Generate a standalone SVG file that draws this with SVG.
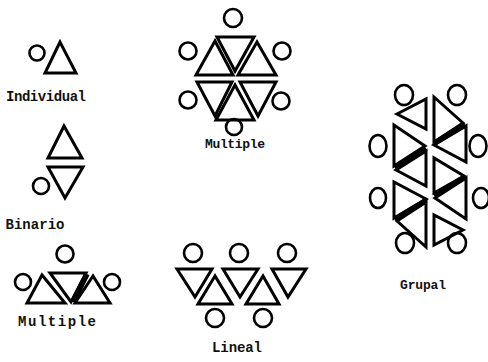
<svg xmlns="http://www.w3.org/2000/svg" width="488" height="362" viewBox="0 0 488 362">
<style>
.t{fill:none;stroke:#000;stroke-width:3;stroke-linejoin:miter}
.c{fill:none;stroke:#000;stroke-width:2.6}
.b{stroke:#000;stroke-width:5.5;stroke-linecap:butt}
.lbl{font-family:"Liberation Mono","Courier New",monospace;font-weight:bold;fill:#111;text-anchor:middle}
</style>
<rect width="488" height="362" fill="#fff"/>
<g id="individual">
<circle class="c" cx="37" cy="53" r="7.5"/>
<polygon class="t" points="60,42 45,73 76,73"/>
<text class="lbl" x="46" y="101" font-size="14" textLength="80">Individual</text>
</g>
<g id="binario">
<polygon class="t" points="64,126 48,158 82,158"/>
<polygon class="t" points="48,167 83,167 65,198"/>
<circle class="c" cx="41" cy="186" r="8"/>
<text class="lbl" x="35" y="229" font-size="14" textLength="59">Binario</text>
</g>
<g id="multiple-hex">
<circle class="c" cx="233" cy="18" r="9"/>
<circle class="c" cx="188" cy="51" r="8.5"/>
<circle class="c" cx="282" cy="51" r="8.5"/>
<circle class="c" cx="188" cy="100" r="8.5"/>
<circle class="c" cx="281" cy="101" r="8.5"/>
<circle class="c" cx="234" cy="127" r="8"/>
<polygon class="t" points="215,41 196,75 233,75"/>
<polygon class="t" points="217,37 254,37 235,71"/>
<polygon class="t" points="257,42 238,75 276,75"/>
<polygon class="t" points="197,82 232,82 215,116"/>
<polygon class="t" points="235,85 216,120 254,120"/>
<polygon class="t" points="240,82 276,82 258,116"/>
<text class="lbl" x="235" y="148" font-size="13" textLength="60">Multiple</text>
</g>
<g id="multiple-row">
<circle class="c" cx="65" cy="254" r="8.5"/>
<circle class="c" cx="23" cy="282" r="8"/>
<circle class="c" cx="112" cy="282" r="8"/>
<polygon class="t" points="42,275 27,303 65,303"/>
<polygon class="t" points="50,273 86,273 71,302"/>
<polygon class="t" points="93,276 75,303 110,303"/>
<line class="b" x1="87" y1="274" x2="73" y2="302"/>
<text class="lbl" x="57" y="326" font-size="14" textLength="78">Multiple</text>
</g>
<g id="lineal">
<circle class="c" cx="193" cy="253" r="9"/>
<circle class="c" cx="239" cy="253" r="9"/>
<circle class="c" cx="287" cy="253" r="9"/>
<circle class="c" cx="215" cy="318" r="9"/>
<circle class="c" cx="263" cy="318" r="9"/>
<polygon class="t" points="177,269 212,269 195,297"/>
<polygon class="t" points="215,276 198,304 232,304"/>
<polygon class="t" points="223,269 258,269 240,297"/>
<polygon class="t" points="263,276 246,304 279,304"/>
<polygon class="t" points="272,269 306,269 288,297"/>
<text class="lbl" x="237" y="352" font-size="14" textLength="50" font-weight="normal" fill="#333">Lineal</text>
</g>
<g id="grupal">
<ellipse class="c" cx="404" cy="95" rx="9" ry="10"/>
<ellipse class="c" cx="457" cy="95" rx="9" ry="10"/>
<ellipse class="c" cx="378" cy="146" rx="8.5" ry="11"/>
<ellipse class="c" cx="478" cy="146" rx="8.5" ry="11"/>
<ellipse class="c" cx="378" cy="198" rx="8" ry="10"/>
<ellipse class="c" cx="481" cy="198" rx="8" ry="10"/>
<ellipse class="c" cx="405" cy="243" rx="9" ry="10"/>
<ellipse class="c" cx="457" cy="243" rx="9" ry="10"/>
<polygon class="t" points="397,114 426,99 426,129"/>
<polygon class="t" points="394,125 394,166 425,146"/>
<polygon class="t" points="396,170 426,151 426,186"/>
<polygon class="t" points="394,182 394,218 426,199"/>
<polygon class="t" points="397,221 426,202 426,247"/>
<line class="b" x1="395" y1="168" x2="426" y2="148.5"/>
<line class="b" x1="395" y1="219.5" x2="426" y2="200.5"/>
<polygon class="t" points="463,123 434,142 434,97"/>
<polygon class="t" points="466,162 466,126 434,145"/>
<polygon class="t" points="464,176 434,193 434,158"/>
<polygon class="t" points="466,219 466,178 435,198"/>
<polygon class="t" points="463,230 434,245 434,215"/>
<line class="b" x1="434" y1="143.5" x2="465" y2="124.5"/>
<line class="b" x1="434" y1="195.5" x2="465" y2="177"/>
<text class="lbl" x="423" y="289" font-size="13" textLength="46">Grupal</text>
</g>
</svg>
